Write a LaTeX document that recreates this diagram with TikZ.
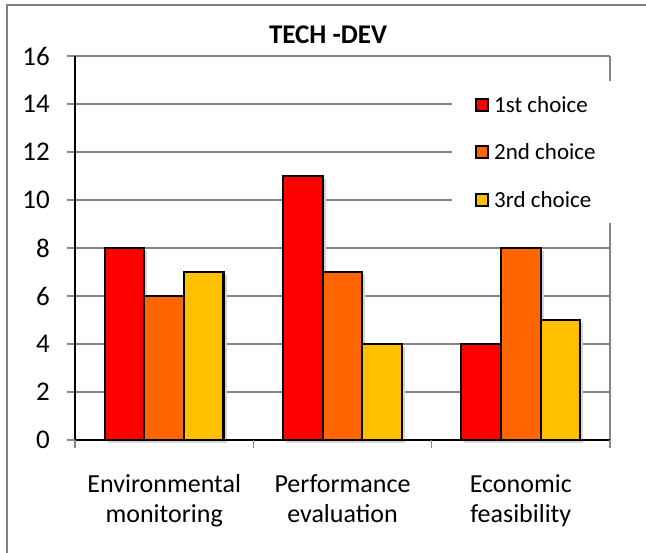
\documentclass[tikz,border=0pt]{standalone}
\usepackage{fontspec}
\setmainfont{Carlito}
\definecolor{barred}{HTML}{FF0000}
\definecolor{barorange}{HTML}{FF6600}
\definecolor{baryellow}{HTML}{FFC000}
\definecolor{gridgray}{HTML}{868686}
\definecolor{framegray}{HTML}{808080}
\tikzset{
  gridline/.style={gridgray, line width=1.2pt},
  barbox/.style={draw=black, line width=2.2pt},
  barshadow/.style={fill=black!16},
  ticklabel/.style={font=\fontsize{27}{32}\selectfont, anchor=east, inner sep=0pt},
  catlabel/.style={font=\fontsize{26}{30}\selectfont, align=center, anchor=north, inner sep=0pt},
  legtext/.style={font=\fontsize{23}{28}\selectfont, anchor=west, inner sep=0pt},
  legkey/.style={draw=black, line width=2pt, minimum size=12pt, inner sep=0pt},
}
\begin{document}
\begin{tikzpicture}[x=1pt,y=1pt]
   \useasboundingbox (-75,-113) rectangle (571,440);
   % chart frame
   \draw[framegray, line width=1.2pt] (-68,-140) |- (620,435);
   \node[font=\bfseries\fontsize{27}{32}\selectfont, inner sep=0pt] (title) at (253,405) {TECH -DEV};
   % grid
   \foreach \v in {2,4,...,16}
     \draw[gridline] (-8,\v*24) -- (535,\v*24);
   \draw[gridline] (535,0) -- (535,384);
   \foreach \v in {0,2,...,16}
     \node[ticklabel] (y\v) at (-25,\v*24) {\v};
   % bars
   \foreach \i/\a/\b/\c in {0/8/6/7, 1/11/7/4, 2/4/8/5} {
     \foreach \j/\v/\col in {0/\a/barred, 1/\b/barorange, 2/\c/baryellow} {
       \pgfmathsetmacro\xl{\i*178.33+29.7+\j*39.63}
       \fill[barshadow] (\xl+3,-3) rectangle (\xl+42.6,\v*24-3);
       \draw[barbox, fill=\col] (\xl,0) rectangle (\xl+39.63,\v*24);
     }
   }
   % axes
   \draw[black, line width=1.5pt] (0,384) -- (0,0) -- (535,0);
   \draw[gridline] (-8,0) -- (0,0);
   \foreach \i in {0,1,2,3}
     \draw[gridline] (\i*178.33,0) -- (\i*178.33,-8);
   \node[catlabel] (env) at (89.2,-34) {Environmental\\monitoring};
   \node[catlabel] (perf) at (267.5,-34) {Performance\\evaluation};
   \node[catlabel] (econ) at (445.8,-34) {Economic\\feasibility};
   % legend
   \fill[white] (377,217) rectangle (545,359);
   \node[legkey, fill=barred] (k1) at (406.5,335) {};
   \node[legkey, fill=barorange] (k2) at (406.5,288) {};
   \node[legkey, fill=baryellow] (k3) at (406.5,240) {};
   \node[legtext] (l1) at (419,335) {1st choice};
   \node[legtext] (l2) at (419,288) {2nd choice};
   \node[legtext] (l3) at (419,240) {3rd choice};
\end{tikzpicture}
\end{document}
